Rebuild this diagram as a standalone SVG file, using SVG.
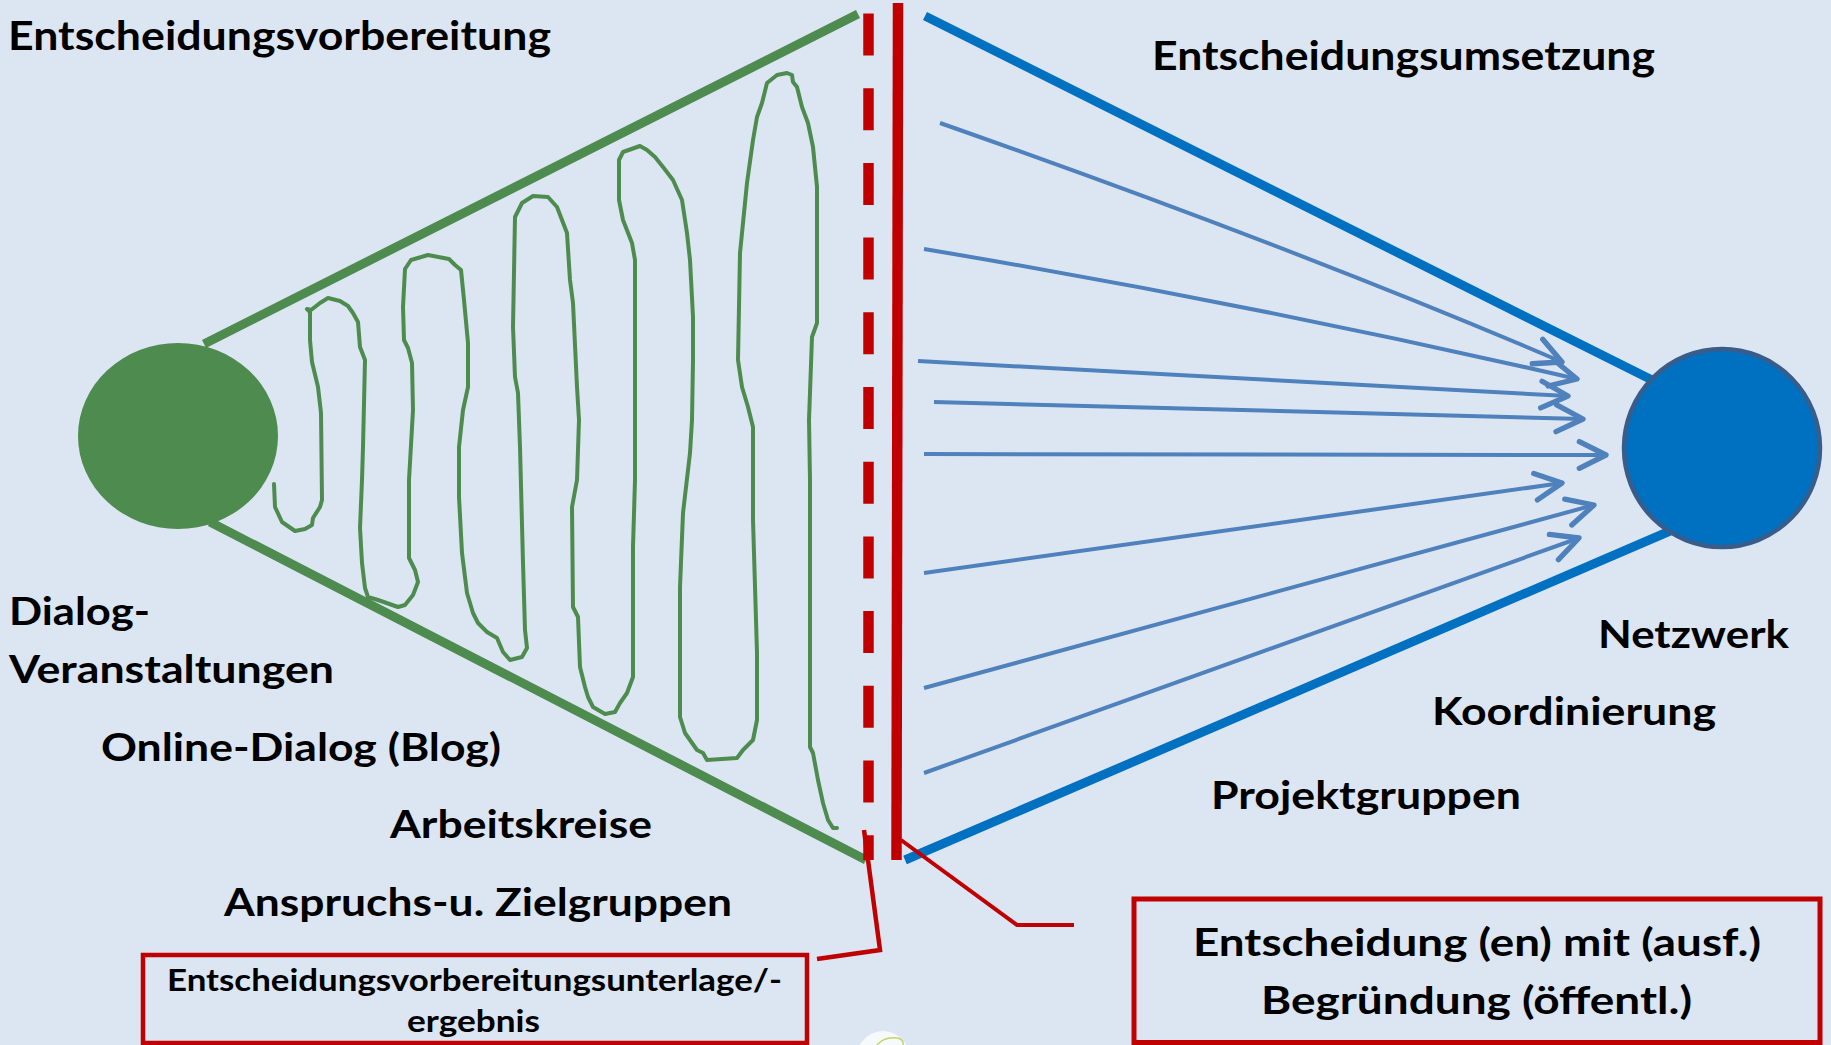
<svg xmlns="http://www.w3.org/2000/svg" width="1831" height="1045" viewBox="0 0 1831 1045">
<style>
.lbl{font-family:Lato,"Open Sans","Liberation Sans",sans-serif;font-weight:700;fill:#000;font-size:39px}
.big{font-size:40px}
.b1{font-size:31px}
.b2{font-size:38px}
.grn{stroke:#4E8B4E;fill:none}
.red{stroke:#C00000;fill:none}
.arr{stroke:#4F81BD;stroke-width:4;fill:none;marker-end:url(#chev)}
.blu{stroke:#0070C0;stroke-width:9;fill:none}
</style>
<defs>
<marker id="chev" markerUnits="userSpaceOnUse" markerWidth="40" markerHeight="40" refX="0" refY="0" viewBox="-25 -15 30 30" orient="auto" overflow="visible">
<path d="M-20,-10 L0,0 L-20,10" fill="none" stroke="#4F81BD" stroke-width="4" stroke-linecap="round" stroke-linejoin="round"/>
</marker>
</defs>
<rect x="0" y="0" width="1831" height="1045" fill="#DCE6F2"/>

<g id="connectors">
  <line class="grn" x1="204" y1="344" x2="858" y2="14" stroke-width="9"/>
  <line class="grn" x1="210" y1="522" x2="866" y2="860" stroke-width="9"/>
  <line class="blu" x1="925" y1="16" x2="1652" y2="380"/>
  <line class="blu" x1="905" y1="860" x2="1670" y2="531"/>
  <path class="arr" d="M940,123 Q1296,248 1562,362"/>
  <path class="arr" d="M924,249 Q1252,304 1577,379"/>
  <path class="arr" d="M918,361 L1568,396"/>
  <path class="arr" d="M934,402 L1583,419"/>
  <path class="arr" d="M924,454 L1606,455"/>
  <path class="arr" d="M924,573 L1562,483"/>
  <path class="arr" d="M924,688 L1594,505"/>
  <path class="arr" d="M924,773 L1579,538"/>
  <line class="red" x1="868.5" y1="13.5" x2="868.5" y2="860" stroke-width="10.5" stroke-dasharray="42 32.7"/>
  <line class="red" x1="898" y1="3" x2="896.5" y2="860" stroke-width="10.5"/>
  <polyline class="red" points="864,830 880,950 817,959" stroke-width="4.5"/>
  <polyline class="red" points="901,840 1017,925 1074,925" stroke-width="4"/>
</g>

<g id="squiggle">
  <path class="grn" stroke-width="4" stroke-linejoin="round" stroke-linecap="round" d="M274,484 L275,507 L282,522 L295,531 L305,529 L312,525 L313,518 L320,507 L322,500 L321,413 L318,387 L312,362 L310,340 L310,312 L307,309 L311,310 L320,303 L328,298 L340,301 L348,306 L353,313 L358,322 L360,347 L365,360 L363,447 L362,480 L360,528 L362,563 L365,588 L368,597 L378,600 L398,607 L405,605 L413,595 L418,582 L415,570 L409,558 L409,480 L413,410 L412,363 L408,348 L404,340 L403,307 L405,269 L411,260 L428,255 L449,259 L455,265 L461,270 L464,300 L468,343 L468,387 L463,410 L459,447 L459,497 L462,553 L467,593 L473,613 L478,623 L487,632 L497,638 L503,652 L510,660 L522,657 L527,648 L525,630 L523,563 L520,447 L518,393 L515,377 L513,327 L515,217 L520,207 L522,203 L533,196 L548,197 L557,207 L562,220 L567,233 L570,280 L573,303 L577,387 L579,420 L577,480 L572,507 L573,607 L578,617 L580,667 L585,687 L588,697 L593,707 L605,714 L615,712 L620,703 L627,693 L633,677 L633,547 L635,480 L635,260 L632,243 L623,220 L619,200 L619,160 L623,152 L640,146 L647,150 L655,157 L663,167 L673,180 L682,200 L687,233 L690,260 L693,317 L693,360 L692,420 L690,453 L683,513 L680,587 L680,717 L685,733 L697,750 L703,753 L707,760 L737,758 L743,750 L753,740 L757,720 L757,653 L753,520 L753,427 L748,407 L742,387 L738,360 L740,253 L743,223 L747,183 L753,140 L757,117 L762,103 L767,83 L777,75 L787,73 L792,75 L793,82 L797,87 L802,107 L808,123 L813,147 L817,187 L817,323 L812,337 L809,420 L810,480 L810,747 L813,753 L818,780 L823,803 L828,820 L833,828 L837,828"/>
</g>

<g id="node-green">
  <ellipse cx="178" cy="436" rx="100" ry="93" fill="#4E8B4E"/>
</g>
<g id="node-blue">
  <ellipse cx="1722" cy="448" rx="98" ry="99" fill="#0070C0" stroke="#385D8A" stroke-width="4.5"/>
</g>

<g id="label-vorbereitung"><text class="lbl big" x="8" y="50" textLength="543" lengthAdjust="spacingAndGlyphs">Entscheidungsvorbereitung</text></g>
<g id="label-umsetzung"><text class="lbl big" x="1152" y="70" textLength="503" lengthAdjust="spacingAndGlyphs">Entscheidungsumsetzung</text></g>
<g id="label-dialog">
  <text class="lbl" x="9" y="625" textLength="141" lengthAdjust="spacingAndGlyphs">Dialog-</text>
  <text class="lbl" x="9" y="683" textLength="325" lengthAdjust="spacingAndGlyphs">Veranstaltungen</text>
</g>
<g id="label-online"><text class="lbl" x="101" y="761" textLength="400" lengthAdjust="spacingAndGlyphs">Online-Dialog (Blog)</text></g>
<g id="label-arbeitskreise"><text class="lbl" x="390" y="838" textLength="262" lengthAdjust="spacingAndGlyphs">Arbeitskreise</text></g>
<g id="label-anspruch"><text class="lbl" x="224" y="916" textLength="508" lengthAdjust="spacingAndGlyphs">Anspruchs-u. Zielgruppen</text></g>
<g id="label-netzwerk"><text class="lbl" x="1598" y="648" textLength="191" lengthAdjust="spacingAndGlyphs">Netzwerk</text></g>
<g id="label-koordinierung"><text class="lbl" x="1432" y="725" textLength="284" lengthAdjust="spacingAndGlyphs">Koordinierung</text></g>
<g id="label-projektgruppen"><text class="lbl" x="1211" y="809" textLength="310" lengthAdjust="spacingAndGlyphs">Projektgruppen</text></g>

<g id="box-unterlage">
  <rect x="143" y="955" width="664" height="88" class="red" stroke-width="4.5"/>
  <text class="lbl b1" x="167" y="991" textLength="615" lengthAdjust="spacingAndGlyphs">Entscheidungsvorbereitungsunterlage/-</text>
  <text class="lbl b1" x="407" y="1032" textLength="133" lengthAdjust="spacingAndGlyphs">ergebnis</text>
</g>
<g id="box-entscheidung">
  <rect x="1134" y="899" width="686" height="143.5" class="red" stroke-width="5"/>
  <text class="lbl b2" x="1193" y="956" textLength="568" lengthAdjust="spacingAndGlyphs">Entscheidung (en) mit (ausf.)</text>
  <text class="lbl b2" x="1261" y="1014" textLength="431" lengthAdjust="spacingAndGlyphs">Begründung (öffentl.)</text>
</g>

<g id="logo-fragment">
  <ellipse cx="883" cy="1068" rx="30" ry="37" fill="#F7FAFD"/>
  <path d="M877,1045 Q884,1036 898,1038 Q904,1040 903,1045" fill="none" stroke="#BFD66A" stroke-width="1.5"/>
</g>
</svg>
